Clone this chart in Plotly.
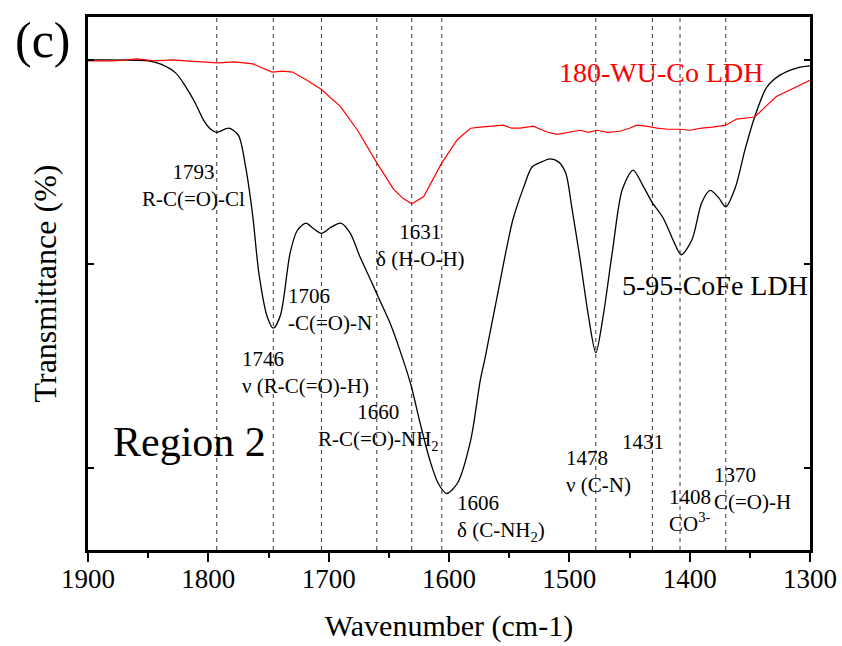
import plotly.graph_objects as go

# ---- data ----
black_w = [1900, 1850, 1840, 1827, 1819, 1811, 1804, 1798, 1793, 1783, 1775, 1769, 1763, 1758, 1751, 1746,
           1740, 1732, 1726, 1719, 1713, 1706, 1698, 1690, 1682, 1674, 1665, 1659, 1649, 1641, 1632, 1624,
           1616, 1609, 1602, 1593, 1582, 1574, 1570, 1560, 1547, 1538, 1531, 1523, 1516, 1509, 1503, 1498,
           1491, 1484, 1478, 1472, 1464, 1456, 1447, 1439, 1431, 1422, 1414, 1407, 1398, 1390, 1383, 1376,
           1370, 1362, 1354, 1346, 1336, 1325, 1311, 1300]
black_t = [50.0, 49.9, 49.6, 48.7, 47.4, 45.8, 44.1, 43.2, 42.9, 43.3, 42.6, 39.5, 34.6, 29.1, 24.8, 23.7,
           25.0, 31.1, 33.3, 34.0, 33.5, 33.0, 33.6, 34.0, 33.0, 30.7, 28.4, 26.8, 24.2, 21.6, 18.3, 14.4,
           10.8, 8.5, 7.5, 8.5, 12.7, 18.6, 20.8, 26.8, 34.3, 37.5, 39.5, 40.0, 40.3, 40.0, 38.9, 35.6,
           30.4, 24.8, 21.3, 24.8, 31.4, 37.3, 39.2, 37.7, 36.0, 34.5, 32.4, 30.9, 32.4, 36.0, 37.2, 36.5,
           35.6, 37.5, 41.2, 44.4, 47.3, 48.5, 49.2, 49.4]

red_w = [1900, 1880, 1868, 1859, 1845, 1830, 1819, 1805, 1792, 1778, 1763, 1755, 1747, 1738, 1730, 1718,
         1706, 1690, 1676, 1660, 1646, 1638, 1631, 1621, 1606, 1593, 1582, 1574, 1565, 1555, 1548, 1541,
         1530, 1524, 1518, 1510, 1505, 1498, 1491, 1484, 1477, 1468, 1458, 1450, 1444, 1436, 1427, 1418,
         1408, 1400, 1390, 1381, 1370, 1361, 1346, 1338, 1328, 1300]
red_t = [49.9, 49.9, 50.0, 50.1, 49.9, 50.0, 49.9, 49.8, 49.7, 49.8, 49.6, 49.2, 48.8, 48.9, 48.8, 48.0,
         47.1, 45.4, 43.1, 39.9, 37.3, 36.4, 35.9, 36.6, 39.9, 42.2, 43.3, 43.4, 43.5, 43.6, 43.3, 43.3,
         43.5, 43.2, 42.9, 42.7, 42.8, 42.9, 43.1, 42.9, 43.1, 42.9, 43.0, 43.3, 43.6, 43.5, 43.3, 43.2,
         43.2, 43.1, 43.3, 43.4, 43.6, 44.2, 44.4, 45.3, 46.4, 48.0]

peaks = [1793, 1746, 1706, 1660, 1631, 1606, 1478, 1431, 1408, 1370]

x_ticks = [1900, 1800, 1700, 1600, 1500, 1400, 1300]

# label: (text, x, y, xanchor, align)
labels = [
    ("1793<br>R-C(=O)-Cl", 1812.4, 37.7, "center", "center"),
    ("1706<br>-C(=O)-N", 1735.2, 25.5, "left", "left"),
    ("1746<br>ν (R-C(=O)-H)", 1773.4, 19.4, "left", "left"),
    ("1631<br>δ (H-O-H)", 1623.9, 31.8, "center", "center"),
    ("1660<br>R-C(=O)-NH<sub>2</sub>", 1658.8, 14.0, "center", "center"),
    ("1606<br>δ (C-NH<sub>2</sub>)", 1594.8, 5.1, "left", "left"),
    ("1478<br>ν (C-N)", 1504.3, 9.7, "left", "left"),
    ("1431", 1438.7, 12.5, "center", "center"),
    ("1370<br>C(=O)-H", 1381.4, 8.0, "left", "left"),
    ("1408<br>CO<sup>3-</sup>", 1418.8, 5.8, "left", "left"),
]

FONT = "Liberation Serif"

fig = go.Figure()
fig.add_trace(go.Scatter(x=black_w, y=black_t, mode="lines", line=dict(color="black", width=1.3, shape="spline", smoothing=0.8),
                         name="5-95-CoFe LDH", showlegend=False))
fig.add_trace(go.Scatter(x=red_w, y=red_t, mode="lines", line=dict(color="red", width=1.2),
                         name="180-WU-Co LDH", showlegend=False))

for p in peaks:
    fig.add_shape(type="line", x0=p, x1=p, xref="x", y0=0, y1=1, yref="paper",
                  line=dict(color="#333333", width=1, dash="4px,4px"), layer="below")

for text, x, y, xa, al in labels:
    fig.add_annotation(text=text, x=x, y=y, xref="x", yref="y", xanchor=xa, yanchor="middle", align=al,
                       showarrow=False, font=dict(family=FONT, size=21, color="black"))

fig.add_annotation(text="180-WU-Co LDH", x=1510.1, y=48.8, xref="x", yref="y", xanchor="left", yanchor="middle",
                   showarrow=False, font=dict(family=FONT, size=28, color="red"))
fig.add_annotation(text="5-95-CoFe LDH", x=1457.8, y=27.9, xref="x", yref="y", xanchor="left", yanchor="middle",
                   showarrow=False, font=dict(family=FONT, size=28, color="black"))
fig.add_annotation(text="Region 2", x=1881.3, y=12.5, xref="x", yref="y", xanchor="left", yanchor="middle",
                   showarrow=False, font=dict(family=FONT, size=42, color="black"))
fig.add_annotation(text="(c)", x=-0.063, y=0.957, xref="paper", yref="paper", xanchor="center", yanchor="middle",
                   showarrow=False, font=dict(family=FONT, size=50, color="black"))

fig.update_layout(
    width=842, height=646,
    margin=dict(l=88, r=32, t=17, b=96),
    plot_bgcolor="white", paper_bgcolor="white",
    font=dict(family=FONT, color="black"),
    xaxis=dict(range=[1900, 1300], tickvals=x_ticks, ticks="outside", ticklen=9, tickwidth=2,
               tickcolor="black", showline=True, linecolor="black", linewidth=2.5, mirror=True,
               showgrid=False, zeroline=False, tickfont=dict(family=FONT, size=27), automargin=False,
               ticklabelstandoff=-6,
               minor=dict(dtick=50, ticks="outside", ticklen=5, tickwidth=2, tickcolor="black"),
               title=dict(text="Wavenumber (cm-1)", font=dict(family=FONT, size=30), standoff=22)),
    xaxis2=dict(range=[1900, 1300], overlaying="x", side="top", tickvals=x_ticks, ticks="inside",
                ticklen=8, tickwidth=2, tickcolor="black", showticklabels=False, showgrid=False,
                zeroline=False, showline=False, automargin=False,
                minor=dict(dtick=50, ticks="inside", ticklen=5, tickwidth=2, tickcolor="black")),
    yaxis=dict(range=[1.96, 54.2], tickvals=[10, 30, 50], ticks="inside", ticklen=6, tickwidth=2,
               tickcolor="black", showticklabels=False, showline=True, linecolor="black", linewidth=2.5,
               mirror="ticks", showgrid=False, zeroline=False, automargin=False,
               title=dict(text="Transmittance (%)", font=dict(family=FONT, size=32), standoff=20)),
)

fig.write_html("out.html")
